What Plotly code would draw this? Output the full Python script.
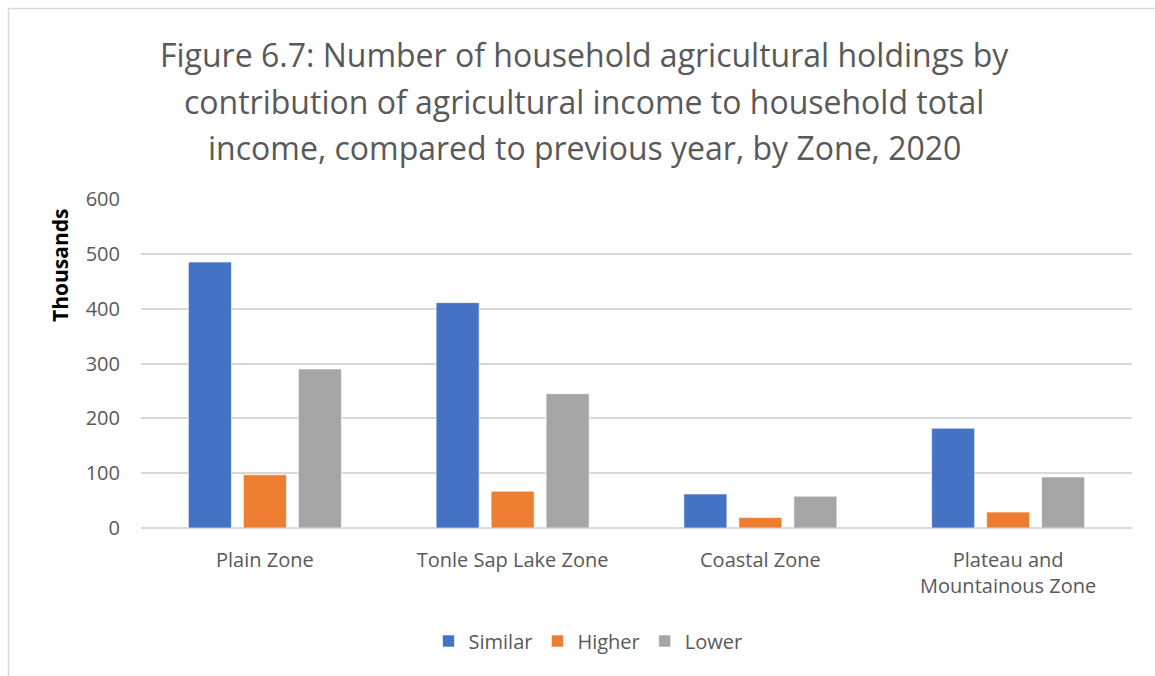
import plotly.graph_objects as go

# Zones (category axis) and holdings per response, in thousands
zones = ["Plain Zone", "Tonle Sap Lake Zone", "Coastal Zone", "Plateau and<br>Mountainous Zone"]
similar = [485, 411, 62, 182]
higher = [97, 67, 19, 29]
lower = [290, 245, 58, 93]

series_names = ["Similar", "Higher", "Lower"]
series_values = [similar, higher, lower]
series_colors = ["#4472C4", "#ED7D31", "#A5A5A5"]

y_ticks = [0, 100, 200, 300, 400, 500, 600]

title_lines = [
    "Figure 6.7: Number of household agricultural holdings by",
    "contribution of agricultural income to household total",
    "income, compared to previous year, by Zone, 2020",
]

FONT = "Open Sans"
TEXT_COLOR = "#595959"
GRID_COLOR = "#D9D9D9"

W, H = 1155, 676
L, R, T, B = 141, 23, 199, 148
PW, PH = W - L - R, H - T - B


def px_x(px):
    return (px - L) / PW


def px_y(py):
    return (H - B - py) / PH


fig = go.Figure()
for name, vals, color in zip(series_names, series_values, series_colors):
    fig.add_trace(go.Bar(
        name=name, x=zones, y=vals,
        marker=dict(color=color, line=dict(color="rgba(255,255,255,0.6)", width=1)),
    ))

# Title drawn line by line for wider line spacing
annotations = []
for i, line in enumerate(title_lines):
    annotations.append(dict(
        text=line, xref="paper", yref="paper",
        x=px_x(584), y=px_y(55 + 46 * i),
        xanchor="center", yanchor="middle", showarrow=False,
        font=dict(family=FONT, size=32, color=TEXT_COLOR),
    ))
annotations.append(dict(
    text="<b>Thousands</b>", textangle=-90,
    xref="paper", yref="paper", x=px_x(60), y=px_y(266),
    xanchor="center", yanchor="middle", showarrow=False,
    font=dict(family=FONT, size=21, color="#000000"),
))

fig.update_layout(
    width=W, height=H,
    margin=dict(l=L, r=R, t=T, b=B),
    paper_bgcolor="white", plot_bgcolor="white",
    barmode="group", bargap=0.334, bargroupgap=0.218,
    font=dict(family=FONT, color=TEXT_COLOR, size=20),
    showlegend=True,
    legend=dict(
        orientation="h", x=px_x(588), xanchor="center", y=px_y(641), yanchor="middle",
        font=dict(size=20, color=TEXT_COLOR), traceorder="normal",
    ),
    xaxis=dict(
        showgrid=False, showline=False, zeroline=False, ticks="",
        tickfont=dict(size=20, color=TEXT_COLOR), ticklabelstandoff=18,
    ),
    yaxis=dict(
        range=[0, 600], tickvals=y_ticks, ticktext=[str(v) for v in y_ticks],
        showgrid=True, gridcolor=GRID_COLOR, gridwidth=1.5,
        zeroline=True, zerolinecolor=GRID_COLOR, zerolinewidth=1.5,
        showline=False, ticks="", tickfont=dict(size=20, color=TEXT_COLOR),
        ticklabelstandoff=20,
    ),
    annotations=annotations,
    shapes=[
        dict(
            type="rect", xref="paper", yref="paper",
            x0=px_x(8.5), x1=px_x(1170), y0=px_y(8.5), y1=px_y(700),
            line=dict(color="#D9D9D9", width=1.5), fillcolor="rgba(0,0,0,0)",
            layer="below",
        )
    ],
)

fig.write_html("out.html")
